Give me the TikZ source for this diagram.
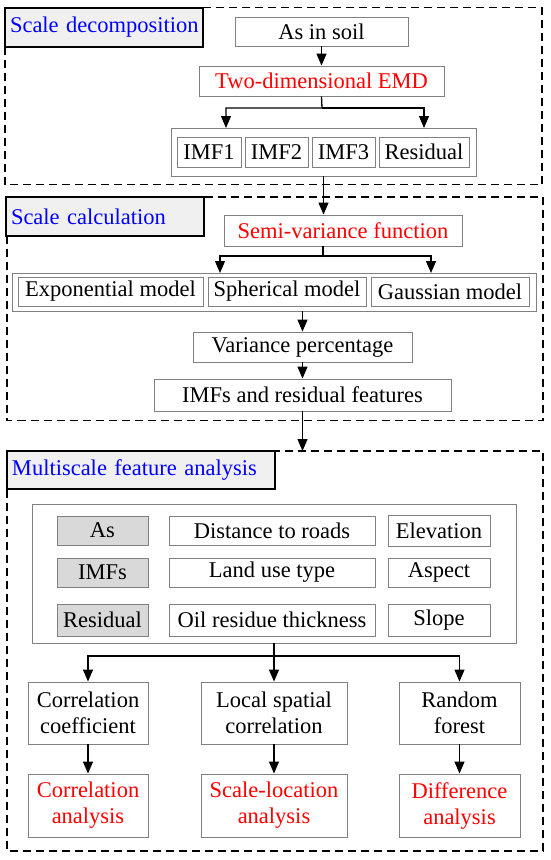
\documentclass[tikz,border=0pt]{standalone}
\usepackage{fontspec}
\setmainfont{Liberation Serif}
\usetikzlibrary{arrows.meta,calc}
\definecolor{bordergray}{RGB}{128,128,128}
\definecolor{labfill}{RGB}{240,240,240}
\definecolor{cellfill}{RGB}{217,217,217}
\definecolor{tblue}{RGB}{0,0,255}
\definecolor{tred}{RGB}{255,0,0}
\begin{document}
\begin{tikzpicture}[x=1pt,y=-1pt,
  font=\fontsize{22.5}{26}\selectfont,
  box/.style={draw=bordergray,line width=0.9pt,inner sep=0pt,align=center},
  gbox/.style={box,fill=cellfill},
  lab/.style={draw=black,line width=1.4pt,fill=labfill,text=tblue,inner xsep=5pt,inner ysep=0pt,align=left},
  dbox/.style={draw=black,line width=1.6pt,dash pattern=on 8pt off 5pt},
  arr/.style={draw=black,line width=1.3pt,-{Triangle[length=12pt,width=10pt]}},
  ln/.style={draw=black,line width=1.3pt}]
\useasboundingbox (0,0) rectangle (550,860);
\fill[white] (0,0) rectangle (550,860);

% dashed frames
\draw[dbox] (5,7.5) rectangle (542,184.5);
\draw[dbox] (7,197) rectangle (543,420.5);
\draw[dbox] (7,451) rectangle (543,851);

% section labels
\node[lab,minimum height=39,text width=188] (lab1) at (104,27.5) {\mbox{Scale decomposition}};
\node[lab,minimum height=39,text width=188] (lab2) at (105,216.5) {\mbox{Scale calculation}};
\node[lab,minimum height=38,text width=258] (lab3) at (141,470) {\mbox{Multiscale feature analysis}};

% section 1
\node[box,minimum width=173,minimum height=29] (asoil) at (321.5,31.5) {As in soil};
\node[box,minimum width=245,minimum height=30,text=tred] (emd) at (321.5,81) {Two-dimensional EMD};
\node[box,minimum width=305,minimum height=48] (imfg) at (323.5,152) {};
\node[box,minimum width=64,minimum height=30] (imf1) at (209,152) {IMF1};
\node[box,minimum width=63,minimum height=30] (imf2) at (276.5,152) {IMF2};
\node[box,minimum width=63,minimum height=30] (imf3) at (343.5,152) {IMF3};
\node[box,minimum width=90,minimum height=30] (res) at (424,152) {Residual};

% section 2
\node[box,minimum width=238,minimum height=31,text=tred] (semi) at (343,230.5) {Semi-variance function};
\node[box,minimum width=524,minimum height=38] (models) at (274,292) {};
\node[box,minimum width=185,minimum height=29] (expo) at (110.5,291.5) {Exponential model};
\node[box,minimum width=158,minimum height=29] (sph) at (287,291.5) {Spherical model};
\node[box,minimum width=158,minimum height=29] (gau) at (450,291.5) {Gaussian model};
\node[box,minimum width=219,minimum height=30] (var) at (302.5,347) {Variance percentage};
\node[box,minimum width=297,minimum height=32] (feat) at (302.5,395) {IMFs and residual features};

% section 3
\node[box,minimum width=484,minimum height=139] (fout) at (274,573.5) {};
\node[gbox,minimum width=91,minimum height=29] (fas) at (102.5,530.5) {As};
\node[box,minimum width=206,minimum height=29] (fdist) at (272,530.5) {Distance to roads};
\node[box,minimum width=102,minimum height=31] (felev) at (439,530.5) {Elevation};
\node[gbox,minimum width=91,minimum height=29] (fimf) at (102.5,572.5) {IMFs};
\node[box,minimum width=206,minimum height=29] (fland) at (272,572.5) {Land use type};
\node[box,minimum width=102,minimum height=29] (fasp) at (439,572.5) {Aspect};
\node[gbox,minimum width=91,minimum height=32] (fres) at (102.5,620) {Residual};
\node[box,minimum width=206,minimum height=32] (foil) at (272,620) {Oil residue thickness};
\node[box,minimum width=102,minimum height=32] (fslope) at (439,620) {Slope};

\node[box,minimum width=120,minimum height=62] (cA) at (88,713) {Correlation\\coefficient};
\node[box,minimum width=146,minimum height=62] (cB) at (274,713) {Local spatial\\correlation};
\node[box,minimum width=121,minimum height=62] (cC) at (459.5,713) {Random\\forest};
\node[box,minimum width=120,minimum height=63,text=tred] (dA) at (88,805.5) {Correlation\\analysis};
\node[box,minimum width=146,minimum height=63,text=tred] (dB) at (274,805.5) {Scale-location\\analysis};
\node[box,minimum width=121,minimum height=63,text=tred] (dC) at (459.5,805.5) {Difference\\analysis};

% connectors
\coordinate (j1) at (322,108);
\coordinate (t1a) at (226,128);
\coordinate (t1b) at (424,128);
\draw[arr] (asoil.south) -- (emd.north);
\draw[arr] (emd.south) -- (j1) -| (t1a);
\draw[arr] (j1) -| (t1b);
\draw[arr] (imfg.south) -- (imfg.south |- semi.north);

\coordinate (s2) at (323,246);
\coordinate (j2) at (323,256);
\coordinate (t2a) at (220,273);
\coordinate (t2b) at (431,273);
\draw[arr] (s2) -- (j2) -| (t2a);
\draw[arr] (j2) -| (t2b);
\draw[arr] (var.north |- models.south) -- (var.north);
\draw[arr] (var.south) -- (feat.north);
\coordinate (d3) at (302.5,451);
\draw[arr] (feat.south) -- (d3);

\coordinate (j3) at (274,656);
\draw[arr] (fout.south) -- (j3) -| (cA.north);
\draw[arr] (j3) -| (cC.north);
\draw[arr] (fout.south) -- (cB.north);
\draw[arr] (cA.south) -- (dA.north);
\draw[arr] (cB.south) -- (dB.north);
\draw[arr] (cC.south) -- (dC.north);
\end{tikzpicture}
\end{document}
